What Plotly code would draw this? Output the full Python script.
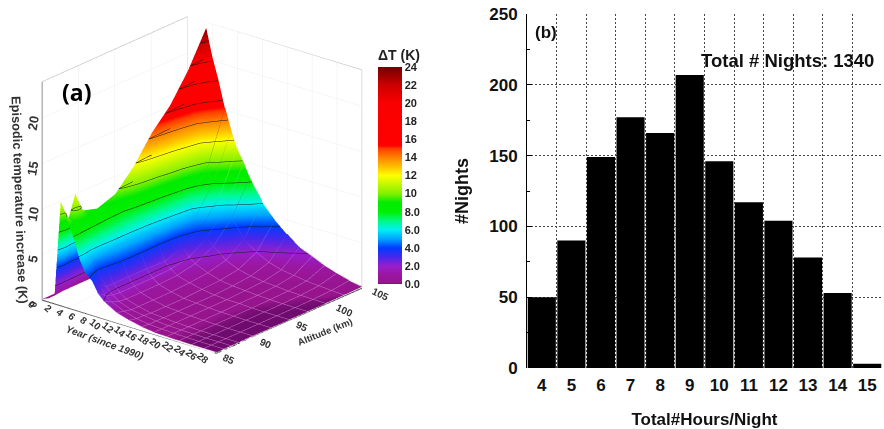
import plotly.graph_objects as go

# ---------- panel (a) data ----------
years = [0, 1, 2, 3, 4, 5, 6, 7, 8, 9, 10, 12, 14, 16, 18, 20, 22, 24, 26, 28]
altitudes = [85, 86, 87, 88, 90, 92.5, 95, 97.5, 100, 102.5, 105]
dT_y00 = [0.1, 0.1, 0.1, 0.1, 0.1, 0.1, 0.1, 0.1, 0.1, 0.1, 0.1]
dT_y01 = [0.4, 0.4, 0.5, 0.5, 0.5, 0.5, 0.6, 0.6, 0.7, 0.8, 0.9]
dT_y02 = [0.9, 1.1, 1.0, 1.6, 1.8, 1.8, 1.9, 2.0, 2.2, 2.6, 3.0]
dT_y03 = [11.5, 9.0, 11.6, 9.4, 8.9, 9.6, 11.7, 14.5, 16.6, 19.6, 23.4]
dT_y04 = [9.8, 9.0, 9.3, 9.0, 8.6, 8.5, 9.6, 10.6, 12.5, 15.0, 20.4]
dT_y05 = [8.0, 7.9, 7.7, 7.6, 7.4, 7.2, 7.6, 8.2, 9.3, 11.6, 18.0]
dT_y06 = [5.8, 5.6, 4.8, 4.8, 5.2, 5.4, 5.6, 6.2, 6.8, 9.3, 15.2]
dT_y07 = [4.4, 4.0, 3.4, 3.7, 4.1, 4.2, 4.1, 4.3, 5.1, 8.0, 12.9]
dT_y08 = [3.8, 3.0, 2.4, 2.4, 2.4, 2.4, 2.3, 3.0, 4.2, 6.7, 11.1]
dT_y09 = [2.6, 2.0, 1.7, 1.6, 1.6, 1.6, 1.7, 2.1, 3.4, 5.7, 9.8]
dT_y10 = [1.9, 1.5, 1.2, 1.1, 1.1, 1.1, 1.2, 1.6, 2.6, 4.8, 8.4]
dT_y12 = [1.1, 0.9, 0.7, 0.7, 0.7, 0.7, 0.8, 1.0, 1.5, 2.9, 6.1]
dT_y14 = [0.7, 0.5, 0.5, 0.4, 0.4, 0.4, 0.5, 0.6, 0.9, 1.9, 4.5]
dT_y16 = [0.4, 0.3, 0.3, 0.3, 0.3, 0.3, 0.3, 0.4, 0.6, 1.2, 3.4]
dT_y18 = [0.2, 0.2, 0.2, 0.2, 0.2, 0.2, 0.2, 0.3, 0.4, 0.8, 2.4]
dT_y20 = [0.15, 0.15, 0.15, 0.15, 0.15, 0.15, 0.2, 0.2, 0.3, 0.6, 1.8]
dT_y22 = [0.12, 0.12, 0.12, 0.12, 0.12, 0.12, 0.12, 0.15, 0.2, 0.4, 1.2]
dT_y24 = [0.1, 0.1, 0.1, 0.1, 0.1, 0.1, 0.1, 0.12, 0.15, 0.3, 0.8]
dT_y26 = [0.1, 0.1, 0.1, 0.1, 0.1, 0.1, 0.1, 0.1, 0.12, 0.2, 0.4]
dT_y28 = [0.1, 0.1, 0.1, 0.1, 0.1, 0.1, 0.1, 0.1, 0.1, 0.12, 0.15]
dT = [dT_y00, dT_y01, dT_y02, dT_y03, dT_y04, dT_y05, dT_y06, dT_y07, dT_y08, dT_y09,
      dT_y10, dT_y12, dT_y14, dT_y16, dT_y18, dT_y20, dT_y22, dT_y24, dT_y26, dT_y28]

year_ticks = list(range(2, 30, 2))
alt_ticks = [85, 90, 95, 100, 105]
z_ticks = [5, 10, 15, 20]
cbar_vals = list(range(0, 26, 2))
cbar_text = ["0.0", "2.0", "4.0", "6.0", "8.0", "10", "12", "14", "16", "18", "20", "22", "24"]

upper_stops = [
    [3/24, "rgb(70,40,235)"], [4/24, "rgb(0,60,255)"], [5/24, "rgb(0,165,255)"],
    [6/24, "rgb(0,240,245)"], [7/24, "rgb(0,250,130)"], [8/24, "rgb(0,240,0)"],
    [9/24, "rgb(0,235,0)"], [10/24, "rgb(130,240,0)"], [12/24, "rgb(255,255,0)"],
    [13/24, "rgb(255,190,0)"], [14/24, "rgb(255,130,0)"], [15/24, "rgb(255,60,0)"],
    [15.3/24, "rgb(255,0,0)"], [20/24, "rgb(250,0,0)"], [22/24, "rgb(205,0,0)"],
    [24/24, "rgb(115,0,0)"],
]
colorscale = [[0.0, "rgb(60,0,70)"], [0.003, "rgb(150,20,140)"], [1/24, "rgb(155,22,160)"], [2/24, "rgb(150,30,205)"]] + upper_stops
mesh_scale = [[0.0, "rgb(205,120,200)"], [2/24, "rgb(175,90,225)"]] + upper_stops

# ---------- panel (b) data ----------
hours = [4, 5, 6, 7, 8, 9, 10, 11, 12, 13, 14, 15]
nights = [50, 90, 149, 177, 166, 207, 146, 117, 104, 78, 53, 3]
hour_edges = [h - 0.5 for h in hours] + [hours[-1] + 0.5]

fig = go.Figure()
by_alt = [list(c) for c in zip(*dT)]

fig.add_trace(go.Surface(
    x=years, y=altitudes, z=by_alt, scene="scene", colorscale=colorscale, cmin=0, cmax=24,
    showscale=True, hoverinfo="skip",
    lighting=dict(ambient=1, diffuse=0, specular=0, roughness=1, fresnel=0),
    contours=dict(z=dict(show=True, start=2, end=24, size=2, color="rgb(25,25,25)", width=2)),
    colorbar=dict(
        x=378/884, xanchor="left", xpad=0, y=1-284/429, yanchor="bottom", ypad=0,
        lenmode="pixels", len=238, thicknessmode="pixels", thickness=24,
        outlinewidth=0, ticks="", tickvals=cbar_vals, ticktext=cbar_text,
        tickfont=dict(family="Liberation Sans", size=11, color="#222", weight=700),
        title=dict(text="ΔT (K)", side="top", font=dict(family="Liberation Sans", size=14, color="#222", weight=700)),
    ),
))

def line3d(xs, ys, zs, color, width):
    fig.add_trace(go.Scatter3d(x=xs, y=ys, z=zs, mode="lines", line=dict(color=color, width=width),
                               hoverinfo="skip", showlegend=False, scene="scene"))

def mesh3d(xs, ys, zs):
    fig.add_trace(go.Scatter3d(x=xs, y=ys, z=[v + 0.03 for v in zs], mode="lines",
                               line=dict(color=zs, colorscale=mesh_scale, cmin=0, cmax=24, width=1),
                               hoverinfo="skip", showlegend=False, scene="scene"))

for i, yr in enumerate(years):
    if yr >= 6:
        mesh3d([yr] * len(altitudes), altitudes, dT[i])
for j, alt in enumerate(altitudes):
    mesh3d(years[6:], [alt] * len(years[6:]), by_alt[j][6:])

y0, y1, a0, a1, z0, z1 = 0, 28, 85, 105, 0, 24
frame = "rgb(200,200,200)"
line3d([y0, y0], [a1, a1], [z0, z1], frame, 1.5)
line3d([y0, y0], [a0, a1], [z1, z1], frame, 1.5)
line3d([y0, y1], [a1, a1], [z1, z1], frame, 1.5)
line3d([y1, y1], [a1, a1], [z0, z1], frame, 1.5)
line3d([y0, y1], [a0, a0], [z0, z0], "rgb(40,40,40)", 2)
line3d([y1, y1], [a0, a1], [z0, z0], "rgb(40,40,40)", 2)
line3d([y0, y0], [a0, a0], [z0, z1], "rgb(110,110,110)", 2)

for t in year_ticks:
    line3d([t, t], [a0, a0 - 0.7], [z0, z0], "rgb(40,40,40)", 1.5)
for t in alt_ticks:
    line3d([y1, y1 + 0.9], [t, t], [z0, z0], "rgb(40,40,40)", 1.5)

tick_font = dict(family="Liberation Sans", size=10, color="#333", weight=700)
scene_notes = []
for t in [0] + year_ticks:
    scene_notes.append(dict(x=t, y=a0, z=z0, text=str(t), textangle=40, showarrow=False,
                            xshift=-6 - 0.25 * t if t else -10, yshift=-5 if t else -4, font=tick_font))
for t in alt_ticks:
    scene_notes.append(dict(x=y1, y=t, z=z0, text=str(t), textangle=25, showarrow=False,
                            xshift=19 if t > 95 else 13, yshift=-6, font=tick_font))
for t in z_ticks:
    scene_notes.append(dict(x=y0, y=a0, z=t, text=str(t), textangle=-80, showarrow=False,
                            xshift=-9, yshift=-5, font=dict(family="Liberation Sans", size=13, color="#333", weight=700)))
scene_notes.append(dict(x=y0, y=a0, z=z0, text="0", textangle=-80, showarrow=False, xshift=-9, yshift=-4, font=tick_font))
scene_notes.append(dict(x=14, y=a0, z=z0, text="<i>Year (since 1990)</i>", textangle=20, showarrow=False,
                        xshift=-24, yshift=-16, font=dict(family="Liberation Sans", size=10, color="#333", weight=700)))
scene_notes.append(dict(x=y1, y=95, z=z0, text="Altitude (km)", textangle=-22, showarrow=False,
                        xshift=36, yshift=-11, font=dict(family="Liberation Sans", size=9.5, color="#333", weight=700)))
scene_notes.append(dict(x=y0, y=a0, z=11, text="Episodic temperature increase (K)", textangle=88, showarrow=False,
                        xshift=-22, yshift=0, font=dict(family="Liberation Sans", size=12.8, color="#333", weight=700)))

hidden = dict(showticklabels=False, ticks="", title="", zeroline=False, showspikes=False,
              showbackground=False, showline=False, showgrid=True, gridcolor="rgb(238,238,238)", gridwidth=1)

fig.add_trace(go.Bar(x=hours, y=nights, width=0.95, marker=dict(color="black", line=dict(width=0)),
                     xaxis="x", yaxis="y", showlegend=False, hoverinfo="skip"))

W, H = 884, 429
bold = dict(family="Liberation Sans", size=17, color="#111", weight=700)
fig.update_layout(
    width=W, height=H, margin=dict(l=0, r=0, t=0, b=0, autoexpand=False), paper_bgcolor="white", plot_bgcolor="white",
    showlegend=False,
    scene=dict(
        domain=dict(x=[1/W, 403/W], y=[1-370/H, 1]),
        xaxis=dict(range=[y0, y1], dtick=4, **hidden),
        yaxis=dict(range=[a0, a1], dtick=5, **hidden),
        zaxis=dict(range=[z0, z1], dtick=5, **hidden),
        aspectmode="manual", aspectratio=dict(x=1.223, y=1.235, z=1.27),
        camera=dict(projection=dict(type="orthographic"), up=dict(x=0, y=0, z=1),
                    center=dict(x=0, y=0, z=0), eye=dict(x=0.584*1.5, y=-0.707*1.5, z=0.365*1.5)),
        annotations=scene_notes,
    ),
    xaxis=dict(domain=[527/W, 882/W], range=[3.5, 15.5], tickvals=hours, ticks="", showgrid=False,
               zeroline=False, showline=False, tickfont=bold, anchor="y", ticklabelstandoff=5,
               minor=dict(tickvals=hour_edges, showgrid=True, gridcolor="rgb(70,70,70)", griddash="2px,2px", gridwidth=1, ticks=""),
               title=dict(text="Total#Hours/Night", font=bold, standoff=20)),
    yaxis=dict(domain=[1-368/H, 1-14/H], range=[0, 250], dtick=50, ticks="inside", ticklen=5, tickcolor="black",
               showgrid=True, gridcolor="rgb(70,70,70)", griddash="2px,2px", gridwidth=1, zeroline=False,
               showline=True, linecolor="black", linewidth=1, tickfont=bold, anchor="x", ticklabelstandoff=5,
               minor=dict(dtick=25, ticks="inside", ticklen=3, tickcolor="black", showgrid=False),
               title=dict(text="#Nights", font=dict(family="Liberation Sans", size=18, color="#111", weight=700), standoff=15)),
    annotations=[
        dict(x=76/W, y=1-92/H, xref="paper", yref="paper", xanchor="center", yanchor="middle", text="(a)", showarrow=False,
             font=dict(family="Open Sans", size=23, color="black", weight=700)),
        dict(x=546/W, y=1-32/H, xref="paper", yref="paper", xanchor="center", yanchor="middle", text="(b)", showarrow=False,
             font=dict(family="Liberation Sans", size=17, color="#111", weight=700)),
        dict(x=787/W, y=1-60/H, xref="paper", yref="paper", xanchor="center", yanchor="middle", text="Total # Nights: 1340", showarrow=False,
             font=dict(family="Liberation Sans", size=18.5, color="#111", weight=700)),
    ],
)

fig.write_html("out.html", config=dict(displayModeBar=False), post_script="document.body.style.margin='0';")
